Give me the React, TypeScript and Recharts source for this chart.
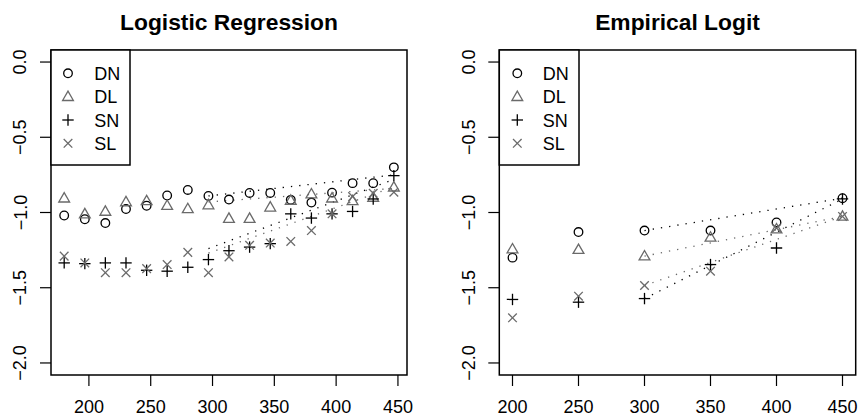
import React from "react";
import { ScatterChart, Scatter, XAxis, YAxis, ReferenceLine, ReferenceArea } from "recharts";

const FONT = "'Liberation Sans', Arial, Helvetica, sans-serif";
const GRAY = "#6a6a6a";

// ---- Logistic Regression panel ----
const lrX = [180, 196.7, 213.3, 230, 246.7, 263.3, 280, 296.7, 313.3, 330, 346.7, 363.3, 380, 396.7, 413.3, 430, 446.7];
const lrDN = [-1.02, -1.045, -1.07, -0.977, -0.955, -0.887, -0.85, -0.89, -0.914, -0.87, -0.87, -0.916, -0.934, -0.868, -0.805, -0.805, -0.70];
const lrDL = [-0.905, -1.01, -0.993, -0.93, -0.923, -0.954, -0.976, -0.95, -1.04, -1.04, -0.965, -0.92, -0.878, -0.905, -0.923, -0.90, -0.832];
const lrSN = [-1.335, -1.34, -1.335, -1.335, -1.384, -1.39, -1.364, -1.313, -1.254, -1.23, -1.207, -1.009, -1.037, -1.009, -0.993, -0.91, -0.755];
const lrSL = [-1.29, -1.335, -1.40, -1.40, -1.373, -1.346, -1.265, -1.40, -1.295, -1.218, -1.203, -1.192, -1.12, -1.009, -0.894, -0.872, -0.865];
const lrLineX = [296.7, 446.7];
const lrLineDN = [-0.89, -0.75];
const lrLineDL = [-0.93, -0.84];
const lrLineSN = [-1.24, -0.78];
const lrLineSL = [-1.27, -0.83];
const lrXTicks = [200, 250, 300, 350, 400, 450];

// ---- Empirical Logit panel ----
const elX = [200, 250, 300, 350, 400, 450];
const elDN = [-1.30, -1.13, -1.12, -1.12, -1.066, -0.905];
const elDL = [-1.243, -1.247, -1.29, -1.165, -1.11, -1.026];
const elSN = [-1.578, -1.596, -1.572, -1.346, -1.236, -0.91];
const elSL = [-1.70, -1.556, -1.485, -1.39, -1.103, -1.026];
const elLineX = [300, 450];
const elLineDN = [-1.12, -0.905];
const elLineDL = [-1.29, -1.026];
const elLineSN = [-1.572, -0.91];
const elLineSL = [-1.485, -1.026];
const elXTicks = [200, 250, 300, 350, 400, 450];

const yTicks = [0, -0.5, -1, -1.5, -2];
const yTickLabels = ["0.0", "\u22120.5", "\u22121.0", "\u22121.5", "\u22122.0"];
const seriesNames = ["DN", "DL", "SN", "SL"];

const zip = (xs: number[], ys: number[]) => xs.map((x, i) => ({ x, y: ys[i] }));

type Sym = "circle" | "triangle" | "plus" | "cross";
const drawSym = (kind: Sym, cx: number, cy: number, color: string) => {
  const sw = 1.3;
  if (kind === "circle") return <circle cx={cx} cy={cy} r={4.3} fill="none" stroke={color} strokeWidth={sw} />;
  if (kind === "triangle")
    return (
      <polygon
        points={`${cx},${cy - 5.6} ${cx - 5.4},${cy + 3.8} ${cx + 5.4},${cy + 3.8}`}
        fill="none"
        stroke={color}
        strokeWidth={sw}
      />
    );
  if (kind === "plus")
    return (
      <g stroke={color} strokeWidth={sw}>
        <line x1={cx - 5.7} y1={cy} x2={cx + 5.7} y2={cy} />
        <line x1={cx} y1={cy - 5.7} x2={cx} y2={cy + 5.7} />
      </g>
    );
  return (
    <g stroke={color} strokeWidth={sw}>
      <line x1={cx - 4.3} y1={cy - 4.3} x2={cx + 4.3} y2={cy + 4.3} />
      <line x1={cx - 4.3} y1={cy + 4.3} x2={cx + 4.3} y2={cy - 4.3} />
    </g>
  );
};
const shapeFn = (kind: Sym, color: string) => (p: any) => drawSym(kind, p.cx, p.cy, color);

const syms: Sym[] = ["circle", "triangle", "plus", "cross"];
const colors = ["#000", GRAY, "#000", GRAY];

const XTick = (p: any) => (
  <text x={p.x} y={p.y} dy={25} textAnchor="middle" fontSize={18} fontFamily={FONT} fill="#000">
    {p.payload.value}
  </text>
);
const YTick = (p: any) => {
  const idx = yTicks.indexOf(p.payload.value);
  const x = p.x - 11.5;
  return (
    <text
      x={x}
      y={p.y}
      transform={`rotate(-90 ${x} ${p.y})`}
      textAnchor="middle"
      fontSize={18}
      fontFamily={FONT}
      fill="#000"
    >
      {idx >= 0 ? yTickLabels[idx] : p.payload.value}
    </text>
  );
};

type PanelProps = {
  left: number;
  marginLeft: number;
  marginRight: number;
  xDomain: [number, number];
  xTicks: number[];
  series: number[][];
  xs: number[];
  lineX: number[];
  lines: number[][];
};

const Y_DOMAIN: [number, number] = [-2.08, 0.08];

const Panel = ({ left, marginLeft, marginRight, xDomain, xTicks, series, xs, lineX, lines }: PanelProps) => (
  <div style={{ position: "absolute", left, top: 0 }}>
    <ScatterChart width={430} height={416} margin={{ top: 50, right: marginRight, bottom: 0, left: marginLeft }}>
      <XAxis
        type="number"
        dataKey="x"
        domain={xDomain}
        ticks={xTicks}
        allowDataOverflow
        axisLine={false}
        tickSize={11}
        tickLine={{ stroke: "#000", strokeWidth: 1.2 }}
        tick={<XTick />}
        height={41}
        interval={0}
      />
      <YAxis
        type="number"
        dataKey="y"
        domain={Y_DOMAIN}
        ticks={yTicks}
        allowDataOverflow
        axisLine={false}
        tickSize={11}
        tickLine={{ stroke: "#000", strokeWidth: 1.2 }}
        tick={<YTick />}
        width={40}
        interval={0}
      />
      <ReferenceArea
        x1={xDomain[0]}
        x2={xDomain[1]}
        y1={Y_DOMAIN[0]}
        y2={Y_DOMAIN[1]}
        fill="none"
        stroke="#000"
        strokeWidth={1.5}
        fillOpacity={0}
        ifOverflow="visible"
      />
      {series.map((ys, i) => (
        <Scatter
          key={seriesNames[i]}
          name={seriesNames[i]}
          data={zip(xs, ys)}
          shape={shapeFn(syms[i], colors[i])}
          isAnimationActive={false}
        />
      ))}
      {lines.map((ys, i) => (
        <ReferenceLine
          key={"l" + i}
          segment={[
            { x: lineX[0], y: ys[0] },
            { x: lineX[1], y: ys[1] },
          ]}
          stroke={colors[i]}
          strokeWidth={1.3}
          strokeDasharray="1.3 7"
          ifOverflow="visible"
        />
      ))}
    </ScatterChart>
  </div>
);

const Overlay = () => {
  const legends = [
    { x0: 51, x1: 130, sx: 68, tx: 94.3 },
    { x0: 499.3, x1: 579, sx: 517.3, tx: 542.7 },
  ];
  const rowY = [73.3, 96.7, 120, 143.3];
  return (
    <svg width={860} height={416} style={{ position: "absolute", left: 0, top: 0, pointerEvents: "none" }}>
      <text x={229} y={30} textAnchor="middle" fontSize={22.8} fontWeight="bold" fontFamily={FONT} fill="#000">
        Logistic Regression
      </text>
      <text x={677.5} y={30} textAnchor="middle" fontSize={22.8} fontWeight="bold" fontFamily={FONT} fill="#000">
        Empirical Logit
      </text>
      {legends.map((L, li) => (
        <g key={li}>
          <rect x={L.x0} y={50} width={L.x1 - L.x0} height={115} fill="#fff" stroke="#000" strokeWidth={1.5} />
          {seriesNames.map((n, i) => (
            <g key={n}>
              {drawSym(syms[i], L.sx, rowY[i], colors[i])}
              <text x={L.tx} y={rowY[i] + 6.7} fontSize={18} fontFamily={FONT} fill="#000">
                {n}
              </text>
            </g>
          ))}
        </g>
      ))}
    </svg>
  );
};

export default function App() {
  return (
    <div style={{ position: "absolute", left: 0, top: 0, width: 860, height: 416, background: "#fff", fontFamily: FONT }}>
      <Panel
        left={0}
        marginLeft={11}
        marginRight={23}
        xDomain={[169.33, 457.33]}
        xTicks={lrXTicks}
        series={[lrDN, lrDL, lrSN, lrSL]}
        xs={lrX}
        lineX={lrLineX}
        lines={[lrLineDN, lrLineDL, lrLineSN, lrLineSL]}
      />
      <Panel
        left={430}
        marginLeft={29.3}
        marginRight={4.3}
        xDomain={[190, 460]}
        xTicks={elXTicks}
        series={[elDN, elDL, elSN, elSL]}
        xs={elX}
        lineX={elLineX}
        lines={[elLineDN, elLineDL, elLineSN, elLineSL]}
      />
      <Overlay />
    </div>
  );
}
